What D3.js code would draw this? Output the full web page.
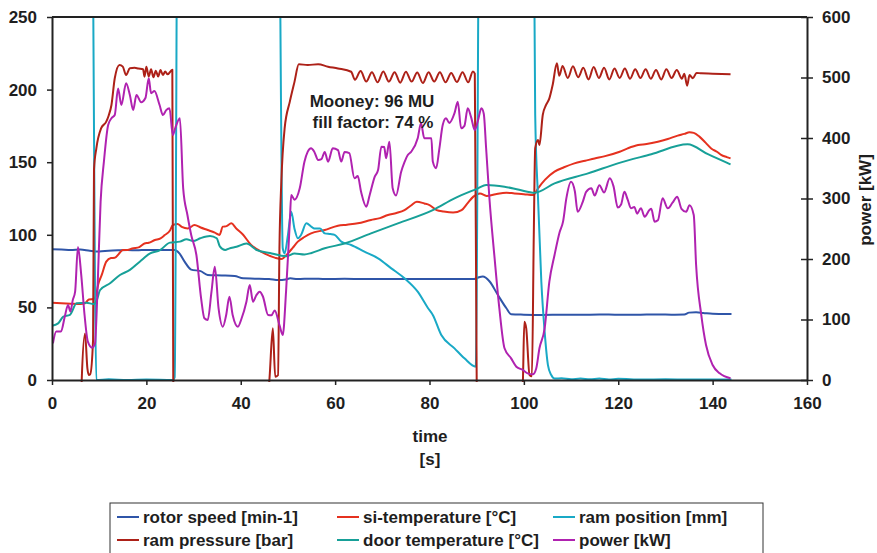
<!DOCTYPE html>
<html>
<head>
<meta charset="utf-8">
<script src="https://cdn.jsdelivr.net/npm/d3@7"></script>
<style>
  body { margin: 0; background: #fff; }
  text { font-family: "Liberation Sans", Arial, sans-serif; font-weight: bold; fill: #1e1e1e; }
</style>
</head>
<body>
<div id="chart"></div>
<script>
// [time s, value]
const rotorSpeed = [[0,90],[2,89.8],[4,89.5],[6,89.8],[8,89],[10,88.5],[12,89],[14,89.3],[16,89.5],[18,89.3],[20,89.6],[22,89.5],[24,89.5],[26,89.5],[27,87.2],[28.1,81.5],[29.5,76],[31.5,75],[33,72.3],[36,72],[38.7,71.6],[40.5,70],[43,69.8],[46,69.5],[48,68.8],[49.5,69.2],[50.5,70],[52,69.5],[55,69.8],[58,69.5],[62,69.7],[66,69.5],[70,69.6],[74,69.5],[78,69.6],[82,69.5],[86,69.6],[89.5,69.6],[90.5,70.8],[91.3,71.2],[92.7,68],[94.5,58.5],[96.3,49.4],[97.3,45.3],[100,45],[104,44.8],[108,45],[112,44.9],[116,45.1],[120,45],[124,45],[128,45.1],[132,45],[134,45.1],[135,46.4],[136.5,46.6],[138,46.2],[140,45.6],[142,45.5],[144,45.4]];

const siTemp = [[0,53.2],[2,52.8],[4,52.5],[6,52.3],[7,52.8],[7.8,55.5],[8.8,55.8],[9.3,58],[9.8,66],[10.5,72],[11.5,81.5],[12.5,84],[13.3,84.2],[14.2,87],[15,89.5],[16,89.5],[17,90.6],[18.5,91.5],[19.6,94],[20.5,94.5],[21.8,96.4],[23,97.5],[23.9,99.8],[25,103],[25.6,106.7],[26.6,107.5],[27.5,105.5],[28.8,104.4],[30.2,106.7],[31.5,105],[33,103.3],[34.5,101.5],[35.5,99.9],[36.2,105.6],[37,106],[38,107.9],[39,104.5],[40.5,100],[42.2,93],[43.5,90],[45,87.2],[47.2,84.3],[48.6,83.3],[50,87.2],[51,91],[52.1,95.3],[53.5,98.5],[54.9,101],[57.8,103.3],[60.6,106.3],[62.5,107],[64.8,107.9],[67.6,110.2],[69.5,111.5],[71.2,113.6],[73,115],[74.7,117],[76,120],[77.3,122.8],[78.9,121.6],[80,120.5],[81.5,117],[83,116],[85,115.3],[86.8,117],[88,121.5],[89.3,126.3],[90.7,128.5],[92.1,126.8],[94,128],[96.3,129],[98,128.5],[100,128],[102,127.4],[103,132],[104.5,138],[106.5,143.5],[108.5,146.5],[110.7,149.2],[113,151],[115,152.6],[117,154],[120.3,157.2],[122,159.5],[124.2,161.8],[126,162.5],[128.4,164.1],[130.5,166],[132.6,168.3],[134,169.5],[135.1,170.6],[136,170.2],[137.2,167.6],[138.5,163.5],[139.7,159.5],[141,157],[141.8,155],[143,153.5],[143.8,152.6]];

const ramPosition = [[0,400],[8.3,400],[9.4,0],[12,0.5],[16,0],[20,0.3],[25.6,0],[26,2],[26.7,400],[47.9,400],[48.9,90.7],[49.3,87.2],[50,100],[50.7,115.9],[51.4,104],[52.1,97.6],[52.8,100],[53.9,107.9],[55,105.5],[55.6,104.4],[56.8,104.4],[57.8,101],[59,100.5],[59.9,99.9],[61.3,95.3],[63.4,93],[66.2,88.4],[69.1,83.8],[71.9,76.9],[74.7,70],[77.5,60.8],[79.7,49.4],[80.7,44.8],[82.5,31],[85.3,21.8],[87.4,14.9],[89.8,9.2],[90.7,400],[101.9,400],[102.4,182.5],[103,125.1],[103.7,67.7],[104.4,33.3],[105.1,10.3],[105.8,3.4],[106.5,1],[108,1.2],[110,0.5],[112,1],[114,0.5],[116,1],[118,0.3],[120,0.8],[125,0.3],[130,0.5],[135,0.3],[140,0.3],[144,0.3]];

const ramPressure = [[6.2,-10],[6.3,0],[7,32],[7.5,8],[7.8,3.5],[8.1,4],[8.7,27.5],[8.9,145],[9.4,159.6],[10.4,173.3],[11.5,177.9],[12,182],[12.6,189.4],[13.3,207.8],[14.3,217],[15,215.8],[15.7,210],[16.5,214.7],[17.5,215],[18.3,214.5],[19.3,214],[19.6,208.9],[20,215.8],[20.5,209],[21,214],[21.5,208.5],[22,213],[22.5,209],[23,213.5],[23.5,210],[24,212.5],[24.5,210.5],[25.5,213.6],[25.7,0],[25.8,-10],[45.8,-10],[46.1,1.4],[46.8,35.6],[47.3,2.3],[47.9,3.4],[48.2,90.7],[48.6,136.6],[49.3,173.3],[50.4,191.7],[51.4,205.5],[52.3,217.4],[54.2,217],[56.4,217.4],[58.5,215.8],[60.6,214.6],[63.4,212.3],[64.2,206.8],[65.4,212.8],[66.6,205.5],[67.8,212],[69,205],[70.2,212.5],[71.4,205.5],[72.6,212],[73.8,204.8],[75,212.3],[76.2,205.5],[77.4,211.8],[78.6,204.5],[79.8,212],[81,205.5],[82.2,212],[83.4,205],[84.6,211.5],[85.8,205.2],[87,212],[88.2,205],[89.2,212.5],[89.6,211],[90,0],[90.1,-10],[99.7,-10],[99.8,0],[100.1,40.2],[100.5,35.6],[101.2,3.4],[101.7,2.5],[102.1,100],[102.4,159.6],[103,165.3],[103.3,161.8],[104,182.5],[104.7,189.4],[105.4,194],[106.1,203.2],[107,218.1],[107.5,209.5],[108.2,216.3],[109.3,208],[110.4,216],[111.5,208.5],[112.6,215],[113.7,207],[114.8,215.5],[115.9,208],[117,215],[118.1,207],[119.2,214.5],[120.3,208],[121.4,214.5],[122.5,207.5],[123.6,214],[124.7,208],[125.8,214],[126.9,207.5],[128,213.5],[129.1,207],[130.2,214],[131.3,208],[132.4,213.5],[133.5,207.5],[134,211],[134.6,202.7],[135.1,210],[135.8,207.8],[136.6,211.5],[137.6,211.2],[140,211],[143.8,210.5]];

const doorTemp = [[0,37.4],[1.3,39],[2.4,43.6],[3.8,44.8],[5.2,52.8],[7.3,53.2],[8.8,52.3],[9.5,55],[10.2,62],[12.3,66.6],[14.4,72.3],[16.5,75.8],[18.6,81.5],[20.8,87.2],[22.9,89.5],[25,94.6],[27.1,95.3],[28.5,96.9],[29.9,95.7],[31.4,97.6],[33.5,99.2],[34.9,97.6],[35.6,91.8],[36.7,89.5],[37.5,90.5],[39.1,91.8],[41.2,94],[43.4,89.5],[46.2,87.5],[48.6,85.6],[49.7,85.3],[51.4,87.2],[53.5,86.5],[55,87.5],[57.8,90.7],[62,94],[67.6,101],[73.3,107.9],[80.7,117],[85.3,125.1],[90.3,132],[92,134.3],[95.9,133.1],[99,131],[102.3,129],[106.5,135.4],[113.6,142.3],[119.9,149.2],[127,155.5],[134.7,162.3],[139,155.5],[143.8,148.5]];

// power on the right axis, kW
const power = [[0.2,60.6],[0.9,80],[1.9,80],[2.7,104.6],[3.4,124],[3.9,113],[4.4,132],[4.9,146],[5.5,220],[6.2,173.5],[6.9,107.4],[7.6,63.3],[8.5,53.4],[9.1,60],[9.7,162.5],[10.3,294.7],[11,360.8],[11.9,421.5],[12.6,432.6],[13.3,438],[14,482],[14.7,454.5],[15.7,490.4],[16.5,471],[17.2,446.3],[17.9,471],[18.9,459],[19.8,466],[20.5,498.6],[21,474],[21.7,477.6],[22.8,454.5],[23.5,438],[24.2,446],[24.9,449],[25.6,405],[26.1,416],[27.1,432.6],[27.8,316.8],[28.7,272.7],[29.5,239.7],[30.6,206.6],[31.6,135],[32.3,102],[33,99],[33.8,146],[34.5,187.3],[35.3,118.5],[36.2,88],[36.9,107],[37.6,137.7],[38.3,107],[39.4,88],[40.1,100],[41.2,129.4],[41.9,157],[42.6,129.4],[43.3,140],[44,146],[44.7,138],[45.8,107.4],[46.5,107],[47.2,115],[48.2,91],[48.9,74.4],[49.6,146],[50.4,261.7],[50.7,305.8],[51.4,298],[52.5,316.8],[53.5,360.8],[54.2,377.4],[54.9,383],[55.6,377],[56.4,363.6],[57.1,365],[57.8,377],[58.5,360.8],[59.5,383],[60.6,380],[61.3,361],[62,377],[63,375],[64.1,333.4],[64.8,337],[65.5,311],[66.6,286.5],[67.3,305],[68.4,336],[69.1,347],[69.8,385.7],[70.4,385],[70.8,366.4],[71.5,394],[72.2,316.8],[72.9,305],[74,344.3],[74.7,360],[75.4,372],[76.1,377],[77.5,399.5],[78.2,424.3],[78.9,399.5],[80.4,399.5],[80.7,361],[81.4,350],[82.1,383],[82.8,421.5],[83.5,432.6],[84.2,425],[85.3,441],[86,460],[86.7,416],[87.4,420],[88.1,449],[88.8,435],[89.6,413],[90.3,430],[91,449],[91.5,440],[92,383],[92.7,300],[93.8,201],[94.8,118.5],[95.9,52.4],[97.3,35.8],[98.4,22],[99.8,16.5],[100.8,11],[101.9,9.4],[102.6,18.7],[103.3,52.4],[104.4,85.4],[105.4,162.5],[106.5,206.6],[107.6,245],[108.3,261.7],[109,300.3],[110,327.8],[110.8,312],[111.4,278],[112.5,295],[113.2,311],[114.3,316.8],[115,305],[116,322],[117,310],[118.2,333.4],[119,320],[119.9,285],[120.6,290],[121.3,311],[122,298],[122.7,283.8],[123.4,286],[124,275],[124.8,284],[125.6,270],[126.6,281],[127,283],[127.7,261.7],[128.4,264],[129.4,300.3],[130.5,283.8],[131.5,293],[132.5,303],[133.4,283],[134.4,278],[135.1,289],[136,272.7],[136.5,190],[137.6,107.4],[138.6,57.9],[140,24.8],[141.5,11],[143.8,2.8]];

const series = [
  { name: "rotor speed [min-1]", data: rotorSpeed, color: "#2f55a8", axis: "left" },
  { name: "si-temperature [°C]", data: siTemp, color: "#e5311f", axis: "left" },
  { name: "ram position [mm]", data: ramPosition, color: "#19a9c6", axis: "left" },
  { name: "ram pressure [bar]", data: ramPressure, color: "#ad2118", axis: "left" },
  { name: "door temperature [°C]", data: doorTemp, color: "#17a098", axis: "left" },
  { name: "power [kW]", data: power, color: "#b022b0", axis: "right" }
];

const xTicks = [0, 20, 40, 60, 80, 100, 120, 140, 160];
const yLeftTicks = [0, 50, 100, 150, 200, 250];
const yRightTicks = [0, 100, 200, 300, 400, 500, 600];

const width = 877, height = 553, margin = { top: 17, right: 70, bottom: 173, left: 52 };
const fontSize = 17;

const svg = d3.select("#chart")
  .append("svg")
  .attr("width", width)
  .attr("height", height);

const x = d3.scaleLinear()
  .domain([0, 160])
  .range([margin.left, width - margin.right]);

const yL = d3.scaleLinear()
  .domain([0, 250])
  .range([height - margin.bottom, margin.top]);

const yR = d3.scaleLinear()
  .domain([0, 600])
  .range([height - margin.bottom, margin.top]);

svg.append("clipPath")
  .attr("id", "plot")
  .append("rect")
  .attr("x", margin.left)
  .attr("y", margin.top)
  .attr("width", width - margin.left - margin.right)
  .attr("height", height - margin.top - margin.bottom + 2);

const lines = svg.append("g").attr("clip-path", "url(#plot)");

series.forEach(s => {
  const y = s.axis === "left" ? yL : yR;
  lines.append("path")
    .datum(s.data)
    .attr("fill", "none")
    .attr("stroke", s.color)
    .attr("stroke-width", 2)
    .attr("stroke-linejoin", "round")
    .attr("d", d3.line().curve(d3.curveMonotoneX).x(d => x(d[0])).y(d => y(d[1])));
});

// top frame line
svg.append("line")
  .attr("x1", margin.left).attr("x2", width - margin.right)
  .attr("y1", margin.top).attr("y2", margin.top)
  .attr("stroke", "#222").attr("stroke-width", 2);

const styleAxis = g => {
  g.select(".domain").attr("stroke", "#222").attr("stroke-width", 2);
  g.selectAll(".tick line").attr("stroke", "#222").attr("stroke-width", 1.5);
  g.selectAll(".tick text").attr("font-size", fontSize).attr("fill", "#1e1e1e")
    .attr("font-family", "Liberation Sans, Arial, sans-serif");
};

svg.append("g")
  .attr("transform", `translate(0,${height - margin.bottom})`)
  .call(d3.axisBottom(x).tickValues(xTicks).tickSizeInner(5).tickSizeOuter(0).tickPadding(12))
  .call(styleAxis);

svg.append("g")
  .attr("transform", `translate(${margin.left},0)`)
  .call(d3.axisLeft(yL).tickValues(yLeftTicks).tickSizeInner(5).tickSizeOuter(0).tickPadding(10))
  .call(styleAxis);

svg.append("g")
  .attr("transform", `translate(${width - margin.right},0)`)
  .call(d3.axisRight(yR).tickValues(yRightTicks).tickSizeInner(6).tickSizeOuter(0).tickPadding(9))
  .call(styleAxis)
  .call(g => g.selectAll(".tick line").attr("x1", -6));

// axis titles
svg.append("text")
  .attr("x", 430).attr("y", 442)
  .attr("text-anchor", "middle").attr("font-size", fontSize)
  .text("time");
svg.append("text")
  .attr("x", 430).attr("y", 465)
  .attr("text-anchor", "middle").attr("font-size", fontSize)
  .text("[s]");
svg.append("text")
  .attr("transform", "translate(871,200) rotate(-90)")
  .attr("text-anchor", "middle").attr("font-size", fontSize)
  .text("power [kW]");

// annotation
svg.append("text")
  .attr("x", 372).attr("y", 107)
  .attr("text-anchor", "middle").attr("font-size", fontSize)
  .text("Mooney: 96 MU");
svg.append("text")
  .attr("x", 373).attr("y", 128)
  .attr("text-anchor", "middle").attr("font-size", fontSize)
  .text("fill factor: 74 %");

// legend
svg.append("rect")
  .attr("x", 110).attr("y", 503)
  .attr("width", 653).attr("height", 60)
  .attr("fill", "none").attr("stroke", "#333").attr("stroke-width", 1);

const legendCols = [117, 337, 553];
const legendRows = [517, 540];
series.forEach((s, i) => {
  const lx = legendCols[i % 3], ly = legendRows[Math.floor(i / 3)];
  svg.append("line")
    .attr("x1", lx).attr("x2", lx + 22)
    .attr("y1", ly).attr("y2", ly)
    .attr("stroke", s.color).attr("stroke-width", 2);
  svg.append("text")
    .attr("x", lx + 26).attr("y", ly + 6)
    .attr("font-size", fontSize)
    .attr("textLength", null)
    .text(s.name);
});
</script>
</body>
</html>
